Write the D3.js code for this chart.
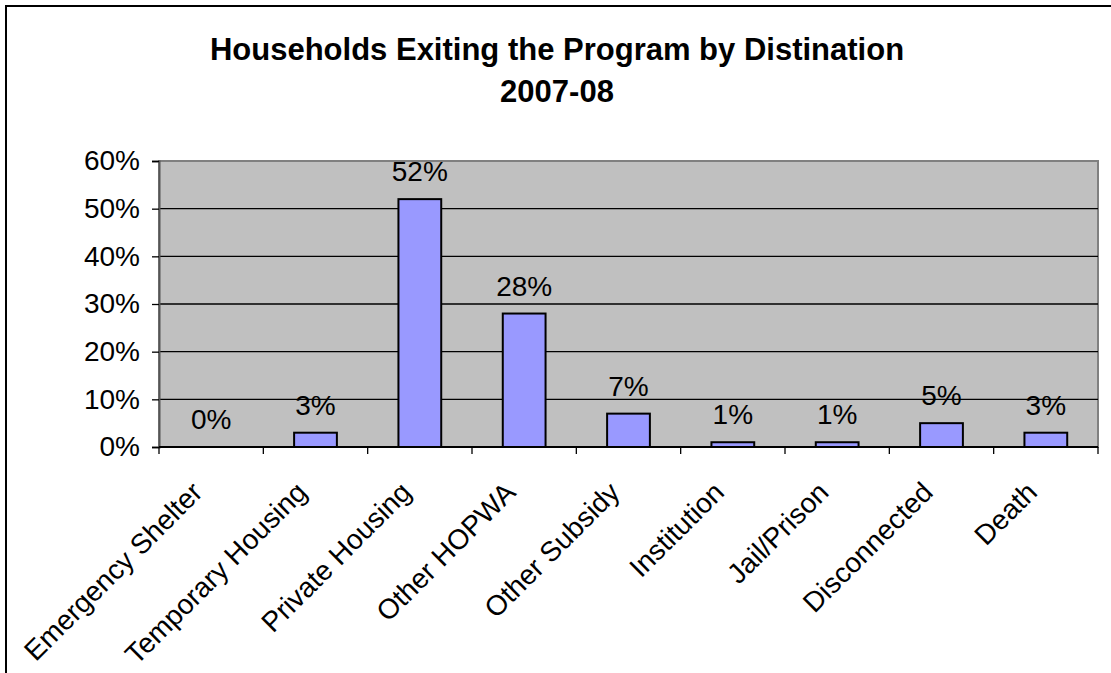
<!DOCTYPE html>
<html>
<head>
<meta charset="utf-8">
<script src="https://cdn.jsdelivr.net/npm/d3@7"></script>
<style>
  body { margin: 0; background: #fff; }
  svg { display: block; font-family: "Liberation Sans", Arial, sans-serif; }
</style>
</head>
<body>
<svg id="chart" width="1111" height="673"></svg>
<script>
// chart data
const destinations = ["Emergency Shelter", "Temporary Housing", "Private Housing", "Other HOPWA",
  "Other Subsidy", "Institution", "Jail/Prison", "Disconnected", "Death"];
const shares = [0, 0.03, 0.52, 0.28, 0.07, 0.01, 0.01, 0.05, 0.03];
const yTicks = [0, 0.1, 0.2, 0.3, 0.4, 0.5, 0.6];
const titleLines = ["Households Exiting the Program by Distination", "2007-08"];

const svg = d3.select("#chart");
const plotLeft = 159, plotRight = 1098, plotTop = 161, plotBottom = 447;

// outer frame (runs off the right and bottom edge like the original)
svg.append("rect")
  .attr("x", 6).attr("y", 6)
  .attr("width", 1130).attr("height", 700)
  .attr("fill", "#fff")
  .attr("stroke", "#000")
  .attr("stroke-width", 2);

const x = d3.scaleBand().domain(destinations).range([plotLeft, plotRight]).padding(0);
const y = d3.scaleLinear().domain([0, 0.6]).range([plotBottom, plotTop]);

// title
svg.selectAll("text.title")
  .data(titleLines)
  .enter()
  .append("text")
  .attr("class", "title")
  .attr("x", 557)
  .attr("y", (d, i) => 60 + i * 42)
  .attr("text-anchor", "middle")
  .style("font-size", "31px")
  .style("font-weight", "bold")
  .text(d => d);

// plot background
svg.append("rect")
  .attr("x", plotLeft).attr("y", plotTop)
  .attr("width", plotRight - plotLeft).attr("height", plotBottom - plotTop)
  .attr("fill", "#c0c0c0")
  .attr("stroke", "#808080")
  .attr("stroke-width", 2);

// gridlines
svg.selectAll("line.grid")
  .data(yTicks.filter(t => t > 0 && t < 0.6))
  .enter()
  .append("line")
  .attr("x1", plotLeft).attr("x2", plotRight)
  .attr("y1", d => y(d)).attr("y2", d => y(d))
  .attr("stroke", "#000")
  .attr("stroke-width", 1.3);

// bars
const bw = x.bandwidth() * 0.41;
svg.selectAll("rect.bar")
  .data(shares)
  .enter()
  .append("rect")
  .attr("class", "bar")
  .attr("x", (d, i) => x(destinations[i]) + (x.bandwidth() - bw) / 2)
  .attr("y", d => y(d))
  .attr("width", bw)
  .attr("height", d => y(0) - y(d))
  .attr("fill", d => d > 0 ? "#9999ff" : "none")
  .attr("stroke", d => d > 0 ? "#000" : "none")
  .attr("stroke-width", 2);

// value labels
svg.selectAll("text.val")
  .data(shares)
  .enter()
  .append("text")
  .attr("class", "val")
  .attr("x", (d, i) => x(destinations[i]) + x.bandwidth() / 2)
  .attr("y", d => y(d) - 18)
  .attr("text-anchor", "middle")
  .style("font-size", "28px")
  .text(d => d3.format(".0%")(d));

// y axis
const yAxis = svg.append("g")
  .attr("transform", `translate(${plotLeft},0)`)
  .call(d3.axisLeft(y).tickValues(yTicks).tickFormat(d3.format(".0%")).tickSize(7).tickPadding(12));
yAxis.select(".domain").attr("stroke", "#555").attr("stroke-width", 2);
yAxis.selectAll(".tick line").attr("stroke", "#000").attr("stroke-width", 1.3);
yAxis.selectAll(".tick text")
  .style("font-size", "28px")
  .style("font-family", "'Liberation Sans', Arial, sans-serif")
  .attr("fill", "#000");

// x axis: ticks between categories
const bounds = destinations.map(d => x(d)).concat([plotRight]);
svg.selectAll("line.xtick")
  .data(bounds)
  .enter()
  .append("line")
  .attr("x1", d => d).attr("x2", d => d)
  .attr("y1", plotBottom).attr("y2", plotBottom + 7)
  .attr("stroke", "#000")
  .attr("stroke-width", 1.3);
svg.append("line")
  .attr("x1", plotLeft).attr("x2", plotRight)
  .attr("y1", plotBottom).attr("y2", plotBottom)
  .attr("stroke", "#000")
  .attr("stroke-width", 2);

// rotated category labels
svg.selectAll("text.cat")
  .data(destinations)
  .enter()
  .append("text")
  .attr("class", "cat")
  .attr("transform", d => `translate(${x(d) + x.bandwidth() / 2 - 7},${plotBottom + 47}) rotate(-45)`)
  .attr("text-anchor", "end")
  .style("font-size", "28px")
  .text(d => d);
</script>
</body>
</html>
